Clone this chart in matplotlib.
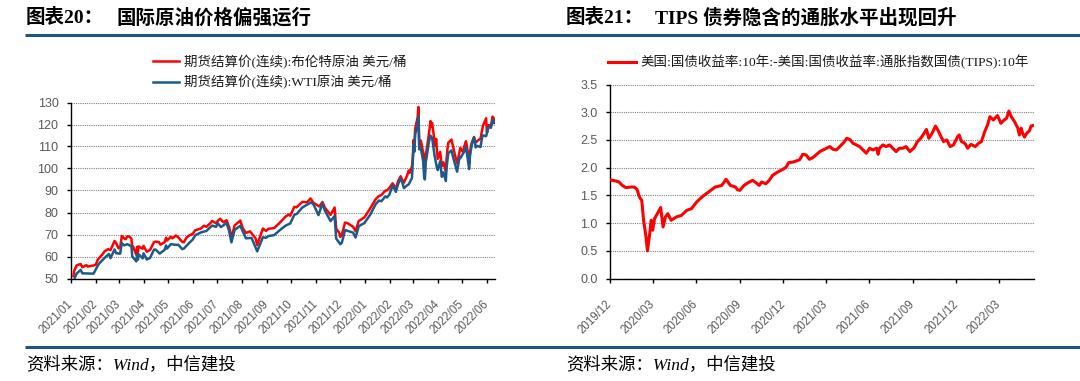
import matplotlib
matplotlib.use("Agg")
import matplotlib.pyplot as plt
import matplotlib.transforms as mtransforms
from matplotlib.lines import Line2D
import pandas as pd

# ---------------- data ----------------
brent_dates = [
    "2021-01-04", "2021-01-05", "2021-01-06", "2021-01-08", "2021-01-13", "2021-01-15", "2021-01-20", "2021-01-22",
    "2021-01-27", "2021-01-29", "2021-02-01", "2021-02-03", "2021-02-05", "2021-02-08", "2021-02-10", "2021-02-12",
    "2021-02-16", "2021-02-19", "2021-02-24", "2021-02-26", "2021-03-01", "2021-03-03", "2021-03-05", "2021-03-08",
    "2021-03-10", "2021-03-12", "2021-03-15", "2021-03-17", "2021-03-18", "2021-03-19", "2021-03-23", "2021-03-24",
    "2021-03-25", "2021-03-26", "2021-03-31", "2021-04-01", "2021-04-05", "2021-04-09", "2021-04-14", "2021-04-16",
    "2021-04-20", "2021-04-22", "2021-04-27", "2021-04-29", "2021-04-30", "2021-05-05", "2021-05-07", "2021-05-11",
    "2021-05-14", "2021-05-19", "2021-05-21", "2021-05-24", "2021-05-28", "2021-06-01", "2021-06-04", "2021-06-11",
    "2021-06-15", "2021-06-18", "2021-06-23", "2021-06-25", "2021-06-30", "2021-07-02", "2021-07-05", "2021-07-09",
    "2021-07-13", "2021-07-16", "2021-07-19", "2021-07-23", "2021-07-30", "2021-08-02", "2021-08-06", "2021-08-11",
    "2021-08-13", "2021-08-18", "2021-08-20", "2021-08-27", "2021-08-31", "2021-09-03", "2021-09-10", "2021-09-17",
    "2021-09-24", "2021-09-28", "2021-09-30", "2021-10-05", "2021-10-08", "2021-10-15", "2021-10-21", "2021-10-25",
    "2021-10-29", "2021-11-05", "2021-11-09", "2021-11-12", "2021-11-19", "2021-11-24", "2021-11-26", "2021-11-30",
    "2021-12-01", "2021-12-03", "2021-12-07", "2021-12-10", "2021-12-17", "2021-12-20", "2021-12-24", "2021-12-31",
    "2022-01-07", "2022-01-14", "2022-01-18", "2022-01-21", "2022-01-26", "2022-01-28", "2022-01-31", "2022-02-04",
    "2022-02-08", "2022-02-11", "2022-02-14", "2022-02-16", "2022-02-18", "2022-02-22", "2022-02-24", "2022-02-25",
    "2022-02-28", "2022-03-01", "2022-03-02", "2022-03-03", "2022-03-04", "2022-03-07", "2022-03-08", "2022-03-09",
    "2022-03-10", "2022-03-11", "2022-03-14", "2022-03-15", "2022-03-16", "2022-03-17", "2022-03-18", "2022-03-21",
    "2022-03-23", "2022-03-24", "2022-03-25", "2022-03-28", "2022-03-29", "2022-03-30", "2022-03-31", "2022-04-01",
    "2022-04-04", "2022-04-06", "2022-04-08", "2022-04-11", "2022-04-12", "2022-04-13", "2022-04-14", "2022-04-18",
    "2022-04-21", "2022-04-22", "2022-04-25", "2022-04-28", "2022-04-29", "2022-05-02", "2022-05-04", "2022-05-06",
    "2022-05-09", "2022-05-10", "2022-05-11", "2022-05-13", "2022-05-16", "2022-05-17", "2022-05-19", "2022-05-20",
    "2022-05-24", "2022-05-26", "2022-05-27", "2022-05-31", "2022-06-01", "2022-06-03", "2022-06-06", "2022-06-08",
    "2022-06-09", "2022-06-10",
]
brent_values = [
    51.09, 53.60, 54.30, 55.99, 56.58, 55.10, 56.08, 55.41,
    55.81, 55.88, 56.35, 58.46, 59.34, 60.56, 61.47, 62.43,
    63.35, 62.91, 67.04, 66.13, 63.69, 64.07, 69.36, 68.24,
    67.90, 69.22, 68.88, 68.00, 63.28, 64.53, 60.79, 64.41,
    61.95, 64.57, 63.54, 64.86, 62.15, 62.95, 66.58, 66.77,
    66.57, 65.40, 66.42, 68.56, 67.25, 68.96, 68.28, 69.55,
    68.71, 66.66, 66.44, 68.46, 69.63, 70.25, 71.89, 72.69,
    73.99, 73.51, 75.19, 76.18, 75.13, 76.17, 77.16, 75.55,
    76.49, 73.59, 68.62, 74.10, 76.33, 72.89, 70.70, 71.44,
    70.59, 68.23, 65.18, 72.70, 71.63, 72.61, 72.92, 75.34,
    78.09, 79.09, 78.52, 82.56, 82.39, 84.86, 84.61, 86.40,
    84.38, 82.74, 84.78, 82.17, 78.89, 82.25, 72.72, 70.57,
    68.87, 69.88, 75.44, 75.15, 73.52, 71.52, 76.14, 77.78,
    81.75, 86.06, 87.51, 87.89, 89.96, 90.03, 91.21, 93.27,
    90.78, 94.44, 96.48, 94.81, 93.54, 96.84, 99.08, 97.93,
    100.99, 104.97, 112.93, 110.46, 118.11, 123.21, 127.98, 111.14,
    109.33, 112.67, 106.90, 99.91, 98.02, 106.64, 107.93, 115.62,
    121.60, 119.03, 120.65, 112.48, 110.23, 113.45, 107.91, 104.39,
    107.53, 101.07, 102.78, 98.48, 104.64, 108.78, 111.70, 113.16,
    108.33, 106.65, 102.32, 107.59, 109.34, 107.58, 110.14, 112.39,
    105.94, 102.46, 107.51, 111.55, 114.24, 111.93, 112.04, 112.55,
    113.56, 117.40, 119.43, 122.84, 116.29, 119.72, 119.51, 123.58,
    123.07, 122.01,
]

wti_dates = [
    "2021-01-04", "2021-01-06", "2021-01-08", "2021-01-13", "2021-01-15", "2021-01-22", "2021-01-29", "2021-02-03",
    "2021-02-05", "2021-02-10", "2021-02-12", "2021-02-17", "2021-02-19", "2021-02-24", "2021-02-26", "2021-03-03",
    "2021-03-05", "2021-03-08", "2021-03-12", "2021-03-17", "2021-03-18", "2021-03-23", "2021-03-24", "2021-03-25",
    "2021-03-26", "2021-03-31", "2021-04-01", "2021-04-05", "2021-04-09", "2021-04-14", "2021-04-16", "2021-04-21",
    "2021-04-27", "2021-04-29", "2021-04-30", "2021-05-05", "2021-05-11", "2021-05-14", "2021-05-19", "2021-05-21",
    "2021-05-28", "2021-06-01", "2021-06-04", "2021-06-11", "2021-06-18", "2021-06-25", "2021-06-30", "2021-07-02",
    "2021-07-06", "2021-07-13", "2021-07-16", "2021-07-19", "2021-07-23", "2021-07-30", "2021-08-06", "2021-08-13",
    "2021-08-20", "2021-08-27", "2021-08-31", "2021-09-03", "2021-09-10", "2021-09-17", "2021-09-24", "2021-09-30",
    "2021-10-05", "2021-10-08", "2021-10-15", "2021-10-22", "2021-10-26", "2021-10-29", "2021-11-04", "2021-11-09",
    "2021-11-12", "2021-11-19", "2021-11-24", "2021-11-26", "2021-11-30", "2021-12-01", "2021-12-03", "2021-12-07",
    "2021-12-10", "2021-12-17", "2021-12-20", "2021-12-24", "2021-12-31", "2022-01-07", "2022-01-14", "2022-01-18",
    "2022-01-21", "2022-01-26", "2022-01-28", "2022-01-31", "2022-02-04", "2022-02-08", "2022-02-11", "2022-02-14",
    "2022-02-16", "2022-02-18", "2022-02-22", "2022-02-24", "2022-02-28", "2022-03-01", "2022-03-02", "2022-03-03",
    "2022-03-04", "2022-03-07", "2022-03-08", "2022-03-09", "2022-03-11", "2022-03-14", "2022-03-15", "2022-03-16",
    "2022-03-17", "2022-03-18", "2022-03-21", "2022-03-23", "2022-03-25", "2022-03-28", "2022-03-31", "2022-04-01",
    "2022-04-04", "2022-04-06", "2022-04-08", "2022-04-11", "2022-04-12", "2022-04-14", "2022-04-18", "2022-04-21",
    "2022-04-25", "2022-04-28", "2022-04-29", "2022-05-04", "2022-05-06", "2022-05-10", "2022-05-11", "2022-05-13",
    "2022-05-16", "2022-05-17", "2022-05-18", "2022-05-20", "2022-05-24", "2022-05-26", "2022-05-27", "2022-05-31",
    "2022-06-03", "2022-06-06", "2022-06-08", "2022-06-09", "2022-06-10",
]
wti_values = [
    47.62, 50.63, 52.24, 53.91, 52.36, 52.27, 52.20, 55.69,
    56.85, 58.68, 59.47, 61.14, 59.24, 63.22, 61.50, 61.28,
    66.09, 65.05, 65.61, 64.60, 60.00, 57.76, 61.18, 58.56,
    60.97, 59.16, 61.45, 58.65, 59.32, 63.15, 63.13, 61.35,
    62.94, 65.01, 63.58, 65.63, 65.28, 65.37, 63.36, 63.58,
    66.32, 67.72, 69.62, 70.91, 71.64, 74.05, 73.47, 75.16,
    73.37, 75.25, 71.81, 66.42, 72.07, 73.95, 68.28, 68.44,
    62.32, 68.74, 68.50, 69.29, 69.72, 71.97, 73.98, 75.03,
    78.93, 79.35, 82.28, 83.76, 84.65, 83.57, 78.81, 84.15,
    80.79, 76.10, 78.39, 68.15, 66.18, 65.57, 66.26, 72.05,
    71.67, 70.86, 68.61, 73.79, 75.21, 78.90, 83.82, 85.43,
    85.14, 87.35, 86.82, 88.15, 92.31, 89.36, 93.10, 95.46,
    93.66, 91.07, 92.35, 92.81, 95.72, 103.41, 110.60, 107.67,
    115.68, 119.40, 123.70, 108.70, 109.33, 103.01, 96.44, 95.04,
    102.98, 104.70, 112.12, 114.93, 113.90, 105.96, 100.28, 99.27,
    103.28, 96.23, 98.26, 94.29, 100.60, 106.95, 108.21, 103.79,
    98.54, 105.36, 104.69, 107.81, 109.77, 99.76, 105.71, 110.49,
    114.20, 112.40, 109.59, 110.28, 109.77, 114.09, 115.07, 114.67,
    118.87, 118.50, 122.11, 121.51, 120.67,
]

bei_dates = [
    "2019-12-31", "2020-01-12", "2020-01-19", "2020-01-26", "2020-02-02", "2020-02-13", "2020-02-20", "2020-02-26",
    "2020-03-02", "2020-03-07", "2020-03-11", "2020-03-16", "2020-03-19", "2020-03-23", "2020-03-27", "2020-03-30",
    "2020-04-03", "2020-04-09", "2020-04-16", "2020-04-21", "2020-04-26", "2020-05-01", "2020-05-08", "2020-05-19",
    "2020-05-30", "2020-06-10", "2020-06-20", "2020-07-01", "2020-07-12", "2020-07-26", "2020-08-09", "2020-08-23",
    "2020-09-01", "2020-09-10", "2020-09-21", "2020-09-25", "2020-09-30", "2020-10-09", "2020-10-20", "2020-10-27",
    "2020-11-03", "2020-11-10", "2020-11-15", "2020-11-24", "2020-12-01", "2020-12-08", "2020-12-15", "2020-12-23",
    "2020-12-30", "2021-01-06", "2021-01-11", "2021-01-20", "2021-01-27", "2021-02-03", "2021-02-10", "2021-02-17",
    "2021-02-24", "2021-03-03", "2021-03-11", "2021-03-18", "2021-03-25", "2021-04-01", "2021-04-08", "2021-04-15",
    "2021-04-22", "2021-04-29", "2021-05-07", "2021-05-14", "2021-05-20", "2021-05-27", "2021-06-03", "2021-06-10",
    "2021-06-17", "2021-06-24", "2021-07-01", "2021-07-08", "2021-07-16", "2021-07-19", "2021-07-22", "2021-07-29",
    "2021-08-05", "2021-08-12", "2021-08-19", "2021-08-26", "2021-09-02", "2021-09-09", "2021-09-16", "2021-09-24",
    "2021-10-03", "2021-10-10", "2021-10-17", "2021-10-24", "2021-10-29", "2021-11-03", "2021-11-10", "2021-11-17",
    "2021-11-22", "2021-11-27", "2021-12-04", "2021-12-11", "2021-12-18", "2021-12-25", "2022-01-03", "2022-01-06",
    "2022-01-11", "2022-01-18", "2022-01-24", "2022-01-31", "2022-02-09", "2022-02-16", "2022-02-22", "2022-03-01",
    "2022-03-07", "2022-03-12", "2022-03-19", "2022-03-28", "2022-04-04", "2022-04-11", "2022-04-16", "2022-04-21",
    "2022-04-26", "2022-05-03", "2022-05-10", "2022-05-13", "2022-05-17", "2022-05-20", "2022-05-24", "2022-05-27",
    "2022-05-31", "2022-06-03", "2022-06-07", "2022-06-10",
]
bei_values = [
    1.78, 1.76, 1.74, 1.68, 1.64, 1.65, 1.65, 1.61,
    1.47, 1.41, 1.05, 0.75, 0.50, 0.75, 1.05, 0.87,
    1.08, 1.17, 1.28, 0.93, 1.11, 1.17, 1.05, 1.11,
    1.14, 1.23, 1.26, 1.38, 1.47, 1.56, 1.65, 1.68,
    1.79, 1.68, 1.65, 1.60, 1.59, 1.68, 1.74, 1.77,
    1.73, 1.68, 1.74, 1.71, 1.77, 1.86, 1.90, 1.94,
    1.97, 2.01, 2.09, 2.10, 2.12, 2.14, 2.24, 2.23,
    2.15, 2.18, 2.24, 2.29, 2.32, 2.35, 2.38, 2.33,
    2.32, 2.38, 2.45, 2.53, 2.51, 2.44, 2.41, 2.38,
    2.32, 2.26, 2.35, 2.32, 2.35, 2.24, 2.35, 2.41,
    2.38, 2.41, 2.35, 2.29, 2.35, 2.35, 2.38, 2.29,
    2.36, 2.47, 2.53, 2.62, 2.69, 2.53, 2.62, 2.75,
    2.68, 2.59, 2.47, 2.50, 2.38, 2.41, 2.56, 2.59,
    2.47, 2.44, 2.35, 2.42, 2.38, 2.44, 2.47, 2.65,
    2.77, 2.92, 2.86, 2.94, 2.80, 2.86, 2.89, 3.02,
    2.92, 2.83, 2.71, 2.59, 2.71, 2.62, 2.55, 2.60,
    2.64, 2.66, 2.75, 2.76,
]

left_xticklabels = ["2021/01", "2021/02", "2021/03", "2021/04", "2021/05", "2021/06", "2021/07", "2021/08", "2021/09",
                    "2021/10", "2021/11", "2021/12", "2022/01", "2022/02", "2022/03", "2022/04", "2022/05", "2022/06"]
right_xticklabels = ["2019/12", "2020/03", "2020/06", "2020/09", "2020/12", "2021/03", "2021/06", "2021/09",
                     "2021/12", "2022/03"]
left_yticks = [50, 60, 70, 80, 90, 100, 110, 120, 130]
right_yticks = [0.0, 0.5, 1.0, 1.5, 2.0, 2.5, 3.0, 3.5]

brent_label = "期货结算价(连续):布伦特原油 美元/桶"
wti_label = "期货结算价(连续):WTI原油 美元/桶"
bei_label = "美国:国债收益率:10年:-美国:国债收益率:通胀指数国债(TIPS):10年"

# ---------------- styling ----------------
W, H = 1080, 381
RED = "#FF0000"
BLUE = "#1B5A8A"
HEAD = "#1F5689"
TICK_C = "#595959"
SERIF_CJK = ["Liberation Serif", "Noto Sans CJK SC"]
plt.rcParams["font.family"] = ["Liberation Sans", "Noto Sans CJK SC"]

fig = plt.figure(figsize=(W / 100, H / 100), dpi=100)


def fx(px):
    return px / W


def fy(py):
    return 1 - py / H


def make_axes(x0, x1, ytop, ybot):
    return fig.add_axes([fx(x0), fy(ybot), (x1 - x0) / W, (ybot - ytop) / H])


ax1 = make_axes(71, 495, 102.5, 278.5)
ax2 = make_axes(610, 1034, 84.5, 278.5)

bd = pd.to_datetime(brent_dates)
wd = pd.to_datetime(wti_dates)
ed = pd.to_datetime(bei_dates)

l_brent, = ax1.plot(bd, brent_values, color=RED, lw=1.8, label=brent_label, zorder=3)
l_wti, = ax1.plot(wd, wti_values, color=BLUE, lw=1.8, label=wti_label, zorder=4)
l_bei, = ax2.plot(ed, bei_values, color=RED, lw=2.2, label=bei_label, zorder=3)

left_tick_dates = pd.to_datetime(left_xticklabels, format="%Y/%m")
right_tick_dates = pd.to_datetime(right_xticklabels, format="%Y/%m") + pd.offsets.MonthEnd(0)

ax1.set_xlim(pd.Timestamp("2021-01-01"), pd.Timestamp("2022-06-11"))
ax1.set_ylim(left_yticks[0], left_yticks[-1])
ax2.set_xlim(pd.Timestamp("2019-12-31"), pd.Timestamp("2022-06-13"))
ax2.set_ylim(right_yticks[0], right_yticks[-1])

ax1.set_xticks(left_tick_dates)
ax1.set_xticklabels(left_xticklabels)
ax1.set_yticks(left_yticks)
ax1.set_yticklabels([str(v) for v in left_yticks])
ax2.set_xticks(right_tick_dates)
ax2.set_xticklabels(right_xticklabels)
ax2.set_yticks(right_yticks)
ax2.set_yticklabels([f"{v:.1f}" for v in right_yticks])

shift = mtransforms.ScaledTranslation(-4 / 100, 0, fig.dpi_scale_trans)
for ax in (ax1, ax2):
    for s in ("top", "right"):
        ax.spines[s].set_visible(False)
    for s in ("left", "bottom"):
        ax.spines[s].set_linewidth(1.0)
        ax.spines[s].set_color("black")
    ax.yaxis.grid(True, linestyle=(0, (1, 1)), color="#808080", lw=0.8)
    ax.set_axisbelow(True)
    ax.tick_params(axis="y", direction="out", length=3, width=1, color="black",
                   labelsize=9, labelcolor=TICK_C, pad=6)
    ax.tick_params(axis="x", direction="out", length=3, width=1, color="black",
                   labelsize=8.3, labelcolor=TICK_C, pad=11)
    for lab in ax.get_xticklabels():
        lab.set_rotation(45)
        lab.set_ha("right")
        lab.set_va("top")
        lab.set_rotation_mode("anchor")
        lab.set_transform(lab.get_transform() + shift)

leg_font = dict(family=SERIF_CJK, size=9.7)
ax1.legend(handles=[l_brent, l_wti], loc="upper left", bbox_to_anchor=(fx(153), fy(55)),
           bbox_transform=fig.transFigure, frameon=False, borderpad=0, borderaxespad=0,
           handlelength=1.9, handletextpad=0.4, labelspacing=0.45, prop=leg_font, labelcolor="#1a1a1a")
ax2.legend(handles=[l_bei], loc="upper left", bbox_to_anchor=(fx(608), fy(55)),
           bbox_transform=fig.transFigure, frameon=False, borderpad=0, borderaxespad=0,
           handlelength=2.1, handletextpad=0.3, prop=leg_font, labelcolor="#1a1a1a")

# titles
title_kw = dict(family=SERIF_CJK, fontsize=14, fontweight="bold", va="center", ha="left", color="black")
fig.text(fx(26), fy(17.5), "图表20：", **title_kw)
fig.text(fx(117), fy(17.5), "国际原油价格偏强运行", **title_kw)
fig.text(fx(566), fy(17.5), "图表21：", **title_kw)
fig.text(fx(655), fy(17.5), "TIPS 债券隐含的通胀水平出现回升", **title_kw)

# header / footer rules
for yy in (35, 347):
    fig.add_artist(Line2D([fx(25), 1.0], [fy(yy), fy(yy)], transform=fig.transFigure,
                          color=HEAD, lw=2.2, solid_capstyle="butt"))

src_kw = dict(family=SERIF_CJK, fontsize=12.5, style="italic", va="center", ha="left", color="black")
fig.text(fx(26), fy(365), "资料来源：Wind，中信建投", **src_kw)
fig.text(fx(566), fy(365), "资料来源：Wind，中信建投", **src_kw)

fig.savefig("out.png", dpi=100)
